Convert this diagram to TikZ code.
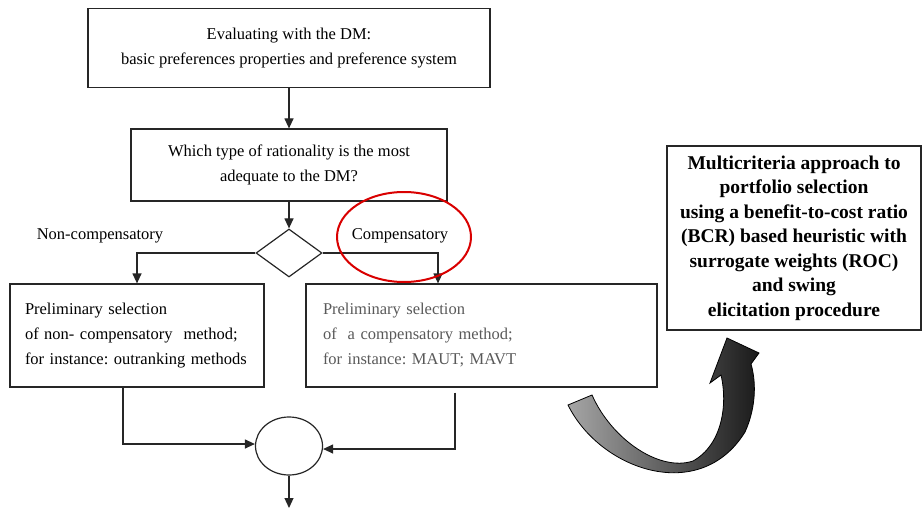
\documentclass[tikz,border=0pt]{standalone}
\usepackage{fontspec}
\setmainfont{Liberation Serif}
\usepackage{tikz}
\usetikzlibrary{arrows.meta, positioning, shapes.geometric}
\frenchspacing

\tikzset{
    box/.style={draw=black!85, line width=1.2pt, inner sep=0pt},
    arr/.style={line width=1.2pt, black!85, -{Triangle[length=10pt,width=9pt]}},
    normtext/.style={font=\fontsize{16.5}{25}\selectfont}
}

\begin{document}
\begin{tikzpicture}[x=1pt, y=-1pt]
            \useasboundingbox (0,0) rectangle (923,508);

            \node[box, normtext, minimum width=402pt, minimum height=79pt, align=center] (eval) at (289,48)
                {Evaluating with the DM:\\basic preferences properties and preference system};
            \node[box, normtext, minimum width=316pt, minimum height=72pt, align=center] (which) at (289,165)
                {Which type of rationality is the most\\adequate to the DM?};
            \node[box, diamond, minimum width=66pt, minimum height=48pt] (dec) at (289,253) {};

            \node[normtext] (noncl) at (100,236) {Non-compensatory};
            \node[normtext] (compl) at (400,236) {Compensatory};

            \node[box, normtext, text width=228pt, inner xsep=13pt, minimum height=103pt, align=left] (nonc) at (137,335.5)
                {\hspace*{2pt}Preliminary selection\\\hspace*{2pt}of non- compensatory\ \ method;\\\hspace*{2pt}for instance: outranking methods};
            \node[box, normtext, text width=317pt, inner xsep=17pt, minimum height=103pt, align=left, text=black!65] (comp) at (481.5,335.5)
                {Preliminary selection\\of\ \ a compensatory method;\\for instance: MAUT; MAVT};

            \node[box, ellipse, minimum width=67pt, minimum height=58pt] (merge) at (289,446) {};
            \coordinate (out) at (289,508);

            \node[box, minimum width=254pt, minimum height=184pt, align=center,
                  font=\fontsize{19.5}{24.5}\selectfont\bfseries] (mcda) at (794,238)
                {Multicriteria approach to\\portfolio selection\\using a benefit-to-cost ratio\\(BCR) based heuristic with\\surrogate weights (ROC)\\and swing\\elicitation procedure};

            % connectors
            \draw[arr] (eval) -- (which);
            \draw[arr] (which) -- (dec);
            \draw[arr] (dec.west) -| (nonc.north);
            \draw[arr] (dec.east) -| ([xshift=-43.5pt]comp.north);
            \draw[arr] ([xshift=-14pt]nonc.south) |- ([yshift=2pt]merge.west);
            \draw[arr] ([xshift=-26.5pt,yshift=-5pt]comp.south) |- ([yshift=-3pt]merge.east);
            \draw[arr] (merge) -- (out);

            % red mark round the label
            \draw[red!85!black, line width=2pt] (404,237) ellipse [x radius=67, y radius=45];

            % curved arrow
            \draw[black, line width=0.8pt, left color=gray!70, right color=black!90]
                (568,405) .. controls (600,470) and (700,505) .. (745,432)
                .. controls (755,410) and (757,385) .. (751,364)
                -- (759,353) -- (727,338) -- (710,383) -- (721,375)
                .. controls (728,405) and (722,445) .. (693,461)
                .. controls (660,472) and (612,440) .. (592,395) -- cycle;

        \end{tikzpicture}
\end{document}
